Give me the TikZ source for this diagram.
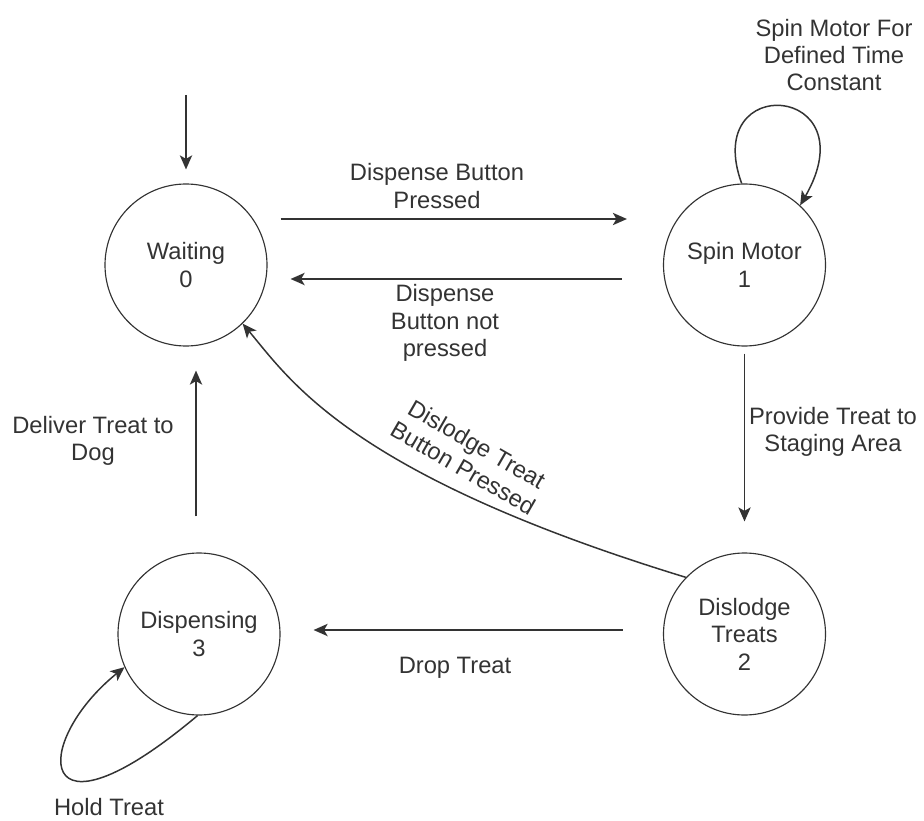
\documentclass[tikz,border=0pt]{standalone}
\usepackage{fontspec}
\setmainfont{Liberation Sans}
\usetikzlibrary{arrows.meta}
\definecolor{ink}{HTML}{333333}

\begin{document}
\begin{tikzpicture}[
        font=\fontsize{13.5}{15.6}\selectfont,
        >={Stealth[length=8pt,width=7pt,inset=2pt]},
        state/.style={draw=ink, circle, line width=0.65pt, minimum size=3.24cm, inner sep=0pt, align=center, text=ink},
        trans/.style={draw=ink, line width=0.85pt, ->},
        note/.style={align=center, text=ink}
      ]
      \useasboundingbox (0,0) rectangle (18.48,-16.40);

      \node[state] (wait) at (3.72,-5.30) {Waiting\\0};
      \node[state] (spin) at (14.89,-5.30) {Spin Motor\\1};
      \node[state] (dislodge) at (14.89,-12.68) {Dislodge\\Treats\\2};
      \node[state] (disp) at (3.98,-12.68) {Dispensing\\3};

      \coordinate (init) at (3.72,-1.90);
      \draw[trans, shorten >=0.28cm] (init) -- (wait);

      \draw[trans, shorten <=0.26cm, shorten >=0.72cm] ([yshift=0.92cm]wait.east) -- ([yshift=0.92cm]spin.west);
      \draw[trans, shorten <=0.82cm, shorten >=0.46cm] ([yshift=-0.28cm]spin.west) -- ([yshift=-0.28cm]wait.east);
      \draw[trans, shorten <=0.14cm, shorten >=0.62cm] (spin.south) -- (dislodge.north);
      \draw[trans, shorten <=0.80cm, shorten >=0.66cm] ([yshift=0.08cm]dislodge.west) -- ([yshift=0.08cm]disp.east);
      \draw[trans, shorten <=0.72cm, shorten >=0.48cm] ([xshift=-0.06cm]disp.north) -- ([xshift=0.20cm]wait.south);
      \draw[trans] (dislodge.136) to[out=163, in=-50, out distance=7cm, in distance=1.5cm] (wait.-46);

      \draw[trans] (spin.92) to[out=110, in=60, out distance=2.4cm, in distance=2.8cm] (spin.47);
      \draw[trans] (disp.-91) to[out=220, in=219, out distance=4.3cm, in distance=2.4cm] (disp.204);

      \node[note] (lbl-press) at (8.74,-3.72) {Dispense Button\\Pressed};
      \node[note] (lbl-notpress) at (8.90,-6.46) {Dispense\\Button not\\pressed};
      \node[note] (lbl-provide) at (16.66,-8.64) {Provide Treat to\\Staging Area};
      \node[note] (lbl-drop) at (9.10,-13.36) {Drop Treat};
      \node[note] (lbl-deliver) at (1.86,-8.82) {Deliver Treat to\\Dog};
      \node[note, rotate=-30] (lbl-dislodge) at (9.40,-9.12) {Dislodge Treat\\Button Pressed};
      \node[note] (lbl-spin) at (16.68,-1.10) {Spin Motor For\\Defined Time\\Constant};
      \node[note] (lbl-hold) at (2.18,-16.14) {Hold Treat};
    \end{tikzpicture}
\end{document}
